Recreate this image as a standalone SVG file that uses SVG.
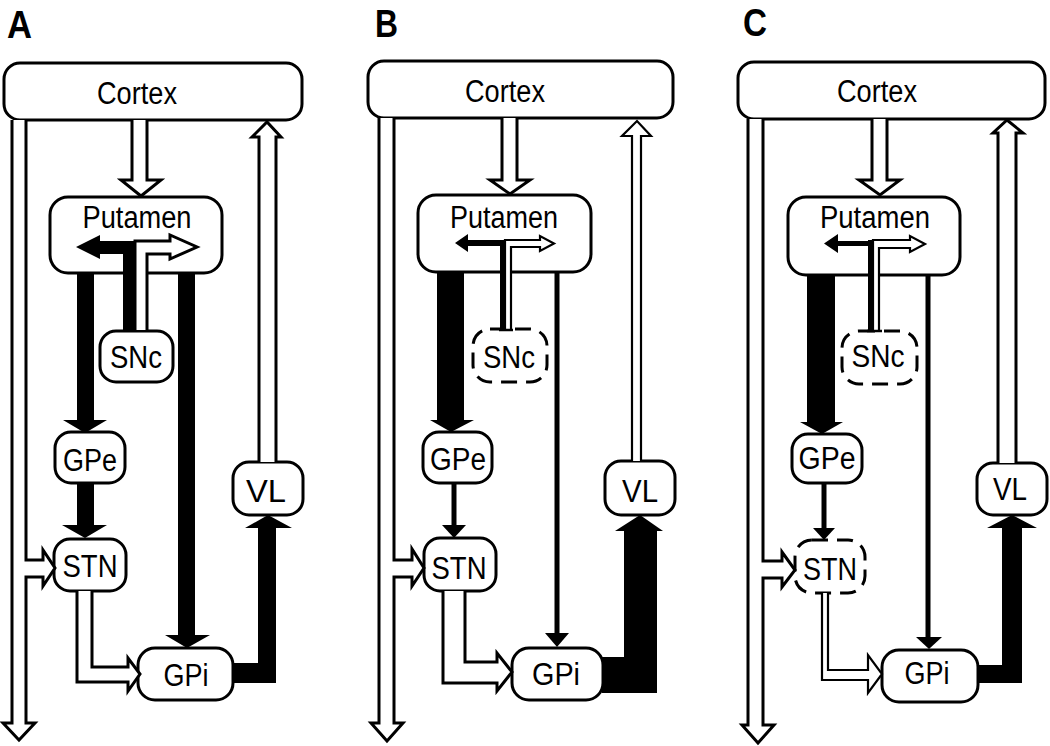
<svg xmlns="http://www.w3.org/2000/svg" width="1050" height="746" viewBox="0 0 1050 746">
<style>
.box{fill:#fff;stroke:#000;stroke-width:3}
.dash{stroke-dasharray:16 9}
.open{fill:#fff;stroke:#000;stroke-width:3;stroke-linejoin:miter}
.thin{stroke-width:2.2}
.solid{fill:#000;stroke:none}
.ln{stroke:#000;stroke-width:5;fill:none}
.cap{stroke:#000;stroke-width:2.5;fill:none}
.lbl{font-family:"Liberation Sans",Arial,sans-serif;font-size:31px;text-anchor:middle;fill:#000}
.pl{font-family:"Liberation Sans",Arial,sans-serif;font-size:39px;font-weight:bold;fill:#000}
</style>
<rect width="1050" height="746" fill="#fff"/>
<text class="pl" x="7" y="38" textLength="25" lengthAdjust="spacingAndGlyphs">A</text>
<text class="pl" x="375" y="37" textLength="23" lengthAdjust="spacingAndGlyphs">B</text>
<text class="pl" x="743" y="36" textLength="24" lengthAdjust="spacingAndGlyphs">C</text>

<!-- Panel A nodes -->
<g id="A-cortex"><rect class="box" x="4" y="63" width="298" height="57" rx="16"/><text class="lbl" x="137" y="104" textLength="80" lengthAdjust="spacingAndGlyphs">Cortex</text></g>
<g id="A-putamen"><rect class="box" x="50" y="197" width="172" height="76" rx="18"/><text class="lbl" x="137" y="228" textLength="109" lengthAdjust="spacingAndGlyphs">Putamen</text></g>
<g id="A-snc"><rect class="box" x="100" y="331" width="73" height="51" rx="16"/><text class="lbl" x="136" y="368" textLength="52" lengthAdjust="spacingAndGlyphs">SNc</text></g>
<g id="A-gpe"><rect class="box" x="55" y="432" width="70" height="51" rx="16"/><text class="lbl" x="90" y="471" textLength="54" lengthAdjust="spacingAndGlyphs">GPe</text></g>
<g id="A-stn"><rect class="box" x="54" y="539" width="72" height="52" rx="16"/><text class="lbl" x="90" y="577" textLength="55" lengthAdjust="spacingAndGlyphs">STN</text></g>
<g id="A-gpi"><rect class="box" x="138" y="648" width="95" height="52" rx="17"/><text class="lbl" x="186" y="686" textLength="45" lengthAdjust="spacingAndGlyphs">GPi</text></g>
<g id="A-vl"><rect class="box" x="233" y="462" width="70" height="53" rx="16"/><text class="lbl" x="266" y="502" textLength="40" lengthAdjust="spacingAndGlyphs">VL</text></g>

<!-- Panel B nodes -->
<g id="B-cortex"><rect class="box" x="368" y="61" width="305" height="57" rx="16"/><text class="lbl" x="505" y="102" textLength="80" lengthAdjust="spacingAndGlyphs">Cortex</text></g>
<g id="B-putamen"><rect class="box" x="418" y="195" width="173" height="77" rx="18"/><text class="lbl" x="504" y="228" textLength="108" lengthAdjust="spacingAndGlyphs">Putamen</text></g>
<g id="B-snc"><rect class="box dash" x="473" y="329" width="74" height="53" rx="17"/><text class="lbl" x="509" y="368" textLength="52" lengthAdjust="spacingAndGlyphs">SNc</text></g>
<g id="B-gpe"><rect class="box" x="423" y="432" width="69" height="51" rx="16"/><text class="lbl" x="458" y="470" textLength="56" lengthAdjust="spacingAndGlyphs">GPe</text></g>
<g id="B-stn"><rect class="box" x="424" y="538" width="72" height="53" rx="16"/><text class="lbl" x="459" y="579" textLength="55" lengthAdjust="spacingAndGlyphs">STN</text></g>
<g id="B-gpi"><rect class="box" x="512" y="648" width="91" height="52" rx="17"/><text class="lbl" x="556" y="685" textLength="48" lengthAdjust="spacingAndGlyphs">GPi</text></g>
<g id="B-vl"><rect class="box" x="605" y="461" width="70" height="54" rx="16"/><text class="lbl" x="640" y="502" textLength="36" lengthAdjust="spacingAndGlyphs">VL</text></g>

<!-- Panel C nodes -->
<g id="C-cortex"><rect class="box" x="738" y="62" width="307" height="57" rx="16"/><text class="lbl" x="877" y="102" textLength="80" lengthAdjust="spacingAndGlyphs">Cortex</text></g>
<g id="C-putamen"><rect class="box" x="788" y="197" width="172" height="78" rx="18"/><text class="lbl" x="875" y="228" textLength="110" lengthAdjust="spacingAndGlyphs">Putamen</text></g>
<g id="C-snc"><rect class="box dash" x="842" y="331" width="75" height="53" rx="17"/><text class="lbl" x="878" y="367" textLength="53" lengthAdjust="spacingAndGlyphs">SNc</text></g>
<g id="C-gpe"><rect class="box" x="792" y="434" width="70" height="49" rx="16"/><text class="lbl" x="827" y="469" textLength="57" lengthAdjust="spacingAndGlyphs">GPe</text></g>
<g id="C-stn"><rect class="box dash" x="795" y="540" width="70" height="53" rx="17"/><text class="lbl" x="830" y="580" textLength="54" lengthAdjust="spacingAndGlyphs">STN</text></g>
<g id="C-gpi"><rect class="box" x="882" y="650" width="96" height="52" rx="17"/><text class="lbl" x="927" y="684" textLength="45" lengthAdjust="spacingAndGlyphs">GPi</text></g>
<g id="C-vl"><rect class="box" x="977" y="463" width="70" height="52" rx="16"/><text class="lbl" x="1010" y="500" textLength="34" lengthAdjust="spacingAndGlyphs">VL</text></g>

<g id="connectors">
<!-- Panel A -->
<path class="open" d="M12,120 V723 H3 L19,740 L35,723 H26 V577 H43 V586 L55,568 L43,550 V560 H26 V120"/>
<path class="open" d="M132,120 V180 H121 L141,196 L161,180 H147 V120"/>
<path class="open" d="M259,462 V137 H252 L267,122 L281,137 H276 V462"/>
<path class="open" d="M77,591 V682 H128 V691 L140,674 L128,658 V667 H92 V591"/>
<path class="open" d="M147,330 V254 H170 V259 L197,247 L170,235 V241 H135 V330"/>
<polygon class="solid" points="123,330 123,254 100,254 100,259 76,247 100,235 100,241 136,241 136,330"/>
<polygon class="solid" points="77,272 77,420 63,420 85,433 107,420 94,420 94,272"/>
<polygon class="solid" points="178,272 178,635 165,635 187,648 210,635 195,635 195,272"/>
<polygon class="solid" points="77,483 77,525 62,525 85,538 107,525 94,525 94,483"/>
<polygon class="solid" points="232,663 258,663 258,528 245,528 268,515 292,528 276,528 276,683 232,683"/>

<!-- Panel B -->
<path class="open" d="M379,118 V723 H371 L387,741 L403,723 H394 V577 H412 V586 L424,568 L412,549 V560 H394 V118"/>
<path class="open" d="M502,118 V180 H490 L510,194 L530,180 H517 V118"/>
<path class="open thin" d="M632,461 V136 H622 L637,121 L651,136 H641 V461"/>
<path class="open" d="M443,591 V683 H497 V691 L512,672 L497,653 V662 H465 V591"/>
<path class="open thin" d="M511,330 V247 H540 V251 L554,243.5 L540,236 V240 H505 V330"/>
<rect class="solid" x="500" y="240" width="5" height="90"/>
<polygon class="solid" points="503,240 468,240 468,234 455,243 468,252 468,246 503,246"/>
<line class="cap" x1="499" y1="330" x2="513" y2="330"/>
<polygon class="solid" points="437,271 437,420 430,420 451,432 474,420 464,420 464,271"/>
<line class="ln" x1="557" y1="271" x2="557" y2="634"/>
<polygon class="solid" points="545,633 557,647 569,633"/>
<line class="ln" x1="454" y1="483" x2="454" y2="526"/>
<polygon class="solid" points="442,525 454,538 466,525"/>
<polygon class="solid" points="602,657 624,657 624,531 615,531 640,515 663,531 657,531 657,693 602,693"/>

<!-- Panel C -->
<path class="open" d="M748,119 V725 H742 L758,743 L774,725 H763 V578 H782 V587 L795,570 L782,552 V561 H763 V119"/>
<path class="open" d="M872,119 V180 H859 L880,195 L900,180 H887 V119"/>
<path class="open" d="M998,463 V133 H993 L1007,120 L1023,133 H1016 V463"/>
<path class="open thin" d="M822,593 V680 H868 V693 L882,674 L868,655 V670 H828 V593"/>
<path class="open thin" d="M879,331 V248 H910 V252 L925,244 L910,236 V240 H873 V331"/>
<rect class="solid" x="868" y="240" width="5" height="91"/>
<polygon class="solid" points="871,241 838,241 838,234 824,243.5 838,253 838,246 871,246"/>
<line class="cap" x1="867" y1="331" x2="882" y2="331"/>
<polygon class="solid" points="807,274 807,422 800,422 822,434 843,422 835,422 835,274"/>
<line class="ln" x1="928" y1="274" x2="928" y2="638"/>
<polygon class="solid" points="916,637 929,649 942,637"/>
<line class="ln" x1="824" y1="483" x2="824" y2="529"/>
<polygon class="solid" points="813,528 824,540 835,528"/>
<polygon class="solid" points="977,665 1002,665 1002,528 987,528 1012,515 1037,528 1022,528 1022,683 977,683"/>
</g>
</svg>
